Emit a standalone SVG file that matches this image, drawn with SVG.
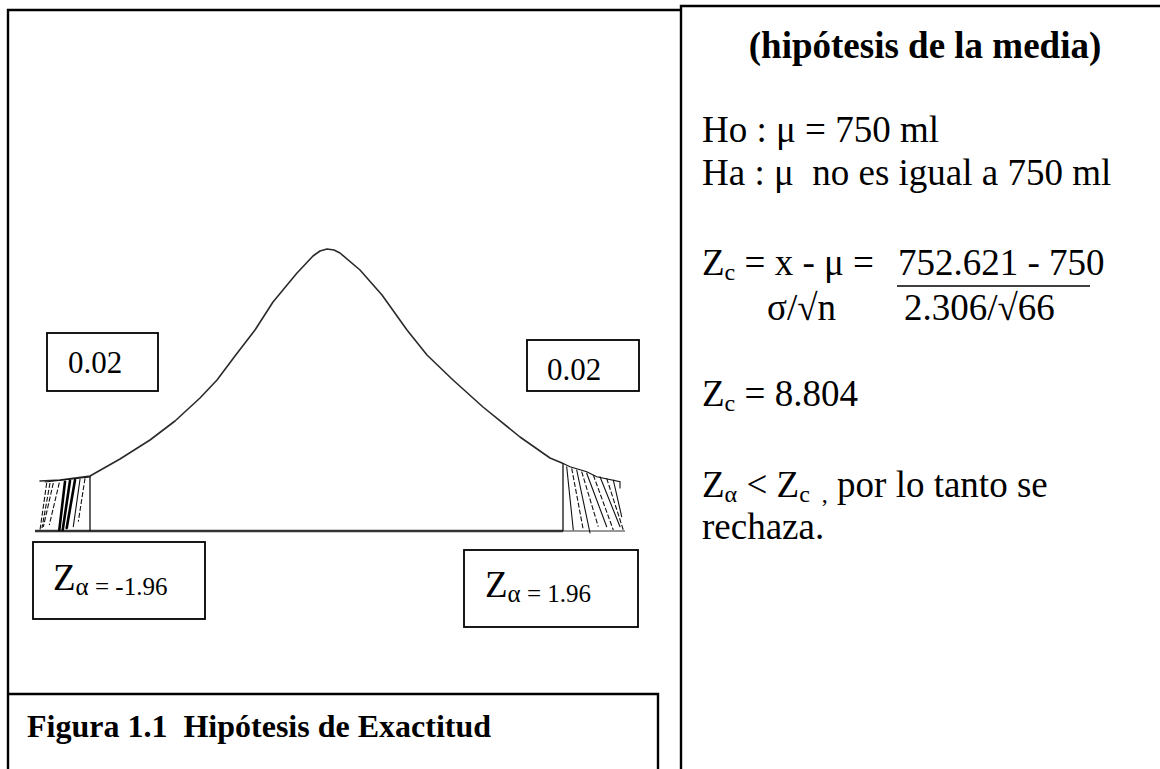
<svg xmlns="http://www.w3.org/2000/svg" width="1160" height="769" viewBox="0 0 1160 769">
<style>
.t{font-family:"Liberation Serif","Times New Roman",serif;fill:#000;white-space:pre}
.frame{fill:none;stroke:#000;stroke-width:2.4}
.box{fill:#fff;stroke:#000;stroke-width:1.8}
.curve{fill:none;stroke:#2a2a2a;stroke-width:1.6;stroke-linejoin:round;stroke-linecap:round}
.h{stroke:#111;stroke-width:1.1;fill:none;stroke-linecap:round}
.hd{stroke:#111;stroke-width:1.1;fill:none;stroke-dasharray:5 2}
.hb{stroke:#000;stroke-width:2.6;fill:none;stroke-linecap:round}
</style>
<rect width="1160" height="769" fill="#fff"/>

<g id="frame-left">
  <path class="frame" d="M8,769 V10 H681"/>
</g>
<g id="frame-right">
  <path class="frame" d="M681,769 V6 H1160"/>
</g>

<g id="distribution">
  <line x1="35" y1="531" x2="563" y2="531" stroke="#333" stroke-width="2.6"/>
  <line x1="563" y1="531" x2="625" y2="531" stroke="#333" stroke-width="1.2"/>
  <polyline class="curve" points="40,481 60,480 90,476 120,459 150,440 175,421 200,398 217,380 235,356 255,330 273,302 297,273 313,256 320,251 327,249 334,250 340,253 360,270 382,295 407,330 427,355 453,380 483,407 520,437 550,458 562,463"/>
</g>

<g id="hatch-left">
  <line class="h" x1="45" y1="482" x2="90" y2="477"/>
  <line x1="90" y1="476" x2="90" y2="531" stroke="#111" stroke-width="1.3"/>
  <line class="hd" x1="46.7" y1="483" x2="40" y2="530"/>
  <line class="hd" x1="50" y1="483" x2="42" y2="528"/>
  <line class="hd" x1="53.3" y1="483" x2="43.3" y2="527"/>
  <line class="hd" x1="59.3" y1="482.7" x2="49.3" y2="525"/>
  <line class="hb" x1="65" y1="481.7" x2="59.3" y2="530"/>
  <line class="hb" x1="70" y1="480.7" x2="62.7" y2="530"/>
  <line class="hb" x1="75" y1="480" x2="66.7" y2="528"/>
  <line class="h" x1="80" y1="479.3" x2="73.3" y2="526.7"/>
  <line class="hd" x1="85" y1="478.3" x2="78.3" y2="521.7"/>
</g>

<g id="hatch-right">
  <line x1="563" y1="463" x2="563" y2="531" stroke="#111" stroke-width="1.3"/>
  <polyline class="h" points="562.7,463.3 570,466.7 586.7,471.7 596.7,476.7 620,481.7 620,488"/>
  <line class="h" x1="566.7" y1="466.7" x2="573.3" y2="530"/>
  <line class="hd" x1="571.7" y1="468.3" x2="583.3" y2="530"/>
  <line class="h" x1="576.7" y1="470" x2="590" y2="533"/>
  <line class="hd" x1="581.7" y1="471.7" x2="598.3" y2="526.7"/>
  <line class="h" x1="586.7" y1="473.3" x2="606.7" y2="526.7"/>
  <line class="hd" x1="593.3" y1="475" x2="613.3" y2="530"/>
  <line class="h" x1="600" y1="476.7" x2="620" y2="526.7"/>
  <line class="hd" x1="606.7" y1="478.3" x2="623.3" y2="530"/>
  <line class="h" x1="613.3" y1="480" x2="621.7" y2="516.7"/>
</g>

<g id="box-p-left">
  <rect class="box" x="47" y="333" width="111" height="58"/>
  <text class="t" x="68" y="373" font-size="31">0.02</text>
</g>
<g id="box-p-right">
  <rect class="box" x="527" y="340" width="112" height="51"/>
  <text class="t" x="547" y="380" font-size="31">0.02</text>
</g>
<g id="box-z-left">
  <rect class="box" x="33" y="542" width="172" height="77"/>
  <text class="t" x="53" y="590" font-size="37">Z<tspan font-size="25" dy="5">α = -1.96</tspan></text>
</g>
<g id="box-z-right">
  <rect class="box" x="464" y="550" width="174" height="77"/>
  <text class="t" x="485" y="597" font-size="37">Z<tspan font-size="25" dy="5">α = 1.96</tspan></text>
</g>

<g id="caption">
  <path class="frame" d="M8,694 H658 V769" stroke-width="2"/>
  <text class="t" x="27" y="737" font-size="32" font-weight="bold">Figura 1.1  Hipótesis de Exactitud</text>
</g>

<g id="hypothesis-text">
  <text class="t" x="925" y="58" font-size="37" font-weight="bold" text-anchor="middle">(hipótesis de la media)</text>
  <text class="t" x="702" y="142" font-size="37">Ho : μ = 750 ml</text>
  <text class="t" x="702" y="185" font-size="37">Ha : μ  no es igual a 750 ml</text>
  <text class="t" x="702" y="275" font-size="37">Z<tspan font-size="24" dy="5">c</tspan><tspan dy="-5"> = x - μ =</tspan></text>
  <text class="t" x="898" y="275" font-size="37">752.621 - 750</text>
  <line x1="897" y1="286" x2="1090" y2="286" stroke="#000" stroke-width="1.5"/>
  <text class="t" x="767" y="320" font-size="37">σ/√n</text>
  <text class="t" x="904" y="320" font-size="37">2.306/√66</text>
  <text class="t" x="702" y="406" font-size="37">Z<tspan font-size="24" dy="5">c</tspan><tspan dy="-5"> = 8.804</tspan></text>
  <text class="t" x="702" y="497" font-size="37">Z<tspan font-size="24" dy="5">α</tspan><tspan dy="-5"> &lt; Z</tspan><tspan font-size="24" dy="5">c  ,</tspan><tspan dy="-5"> por lo tanto se</tspan></text>
  <text class="t" x="702" y="539" font-size="37">rechaza.</text>
</g>
</svg>
